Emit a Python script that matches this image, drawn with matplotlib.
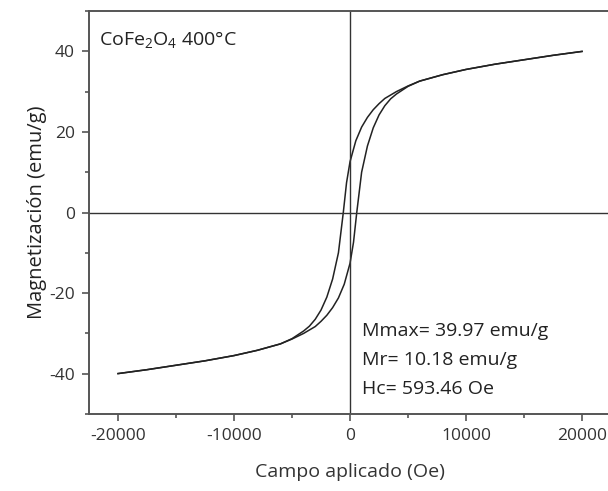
import matplotlib
matplotlib.use("Agg")
import matplotlib.pyplot as plt
from matplotlib.ticker import MultipleLocator

plt.rcParams['font.family'] = ['Open Sans', 'DejaVu Sans']
plt.rcParams['mathtext.fontset'] = 'custom'
plt.rcParams['mathtext.rm'] = 'Open Sans'
plt.rcParams['mathtext.it'] = 'Open Sans:italic'
plt.rcParams['axes.unicode_minus'] = False

# Descending branch (field from +20000 to -20000 Oe)
h_down = [20000, 17500, 15000, 12500, 10000, 8000, 6000, 5000, 4000, 3000,
          2500, 2000, 1500, 1000, 500, 0, -300, -580, -1000, -1500, -2000,
          -2500, -3000, -3500, -4000, -5000, -6000, -8000, -10000, -12500,
          -15000, -17500, -20000]
m_down = [39.97, 39.0, 37.9, 36.8, 35.5, 34.2, 32.6, 31.4, 30.0, 28.3,
          27.0, 25.5, 23.6, 21.2, 17.8, 12.6, 7.4, 0.0, -10.0, -16.5, -21.0,
          -24.2, -26.5, -28.2, -29.4, -31.3, -32.6, -34.2, -35.5, -36.8,
          -37.9, -39.0, -39.97]

# Ascending branch (field from -20000 to +20000 Oe)
h_up = [-20000, -17500, -15000, -12500, -10000, -8000, -6000, -5000, -4000,
        -3000, -2500, -2000, -1500, -1000, -500, 0, 300, 580, 1000, 1500,
        2000, 2500, 3000, 3500, 4000, 5000, 6000, 8000, 10000, 12500, 15000,
        17500, 20000]
m_up = [-39.97, -39.0, -37.9, -36.8, -35.5, -34.2, -32.6, -31.4, -30.0,
        -28.3, -27.0, -25.5, -23.6, -21.2, -17.8, -12.6, -7.4, 0.0, 10.0, 16.5,
        21.0, 24.2, 26.5, 28.2, 29.4, 31.3, 32.6, 34.2, 35.5, 36.8, 37.9,
        39.0, 39.97]

x_ticks = [-20000, -10000, 0, 10000, 20000]
y_ticks = [-40, -20, 0, 20, 40]

fig = plt.figure(figsize=(6.08, 4.91), dpi=100)
ax = fig.add_axes([0.1464, 0.1568, 0.8586, 0.8208])

line_col = '#222222'
ax.plot(h_down, m_down, color=line_col, lw=1.1)
ax.plot(h_up, m_up, color=line_col, lw=1.1)

ax.axhline(0, color='#333333', lw=1.0)
ax.axvline(0, color='#333333', lw=1.0)

ax.set_xlim(-22500, 22500)
ax.set_ylim(-50, 50)
ax.set_xticks(x_ticks)
ax.set_yticks(y_ticks)
ax.xaxis.set_minor_locator(MultipleLocator(5000))
ax.yaxis.set_minor_locator(MultipleLocator(10))

for s in ax.spines.values():
    s.set_color('#555555')
    s.set_linewidth(1.4)

ax.tick_params(which='major', direction='out', length=5, width=1.2,
               color='#555555', labelsize=12.5, labelcolor='#333333', pad=5)
ax.tick_params(which='minor', direction='out', length=3, width=1.2,
               color='#555555')

ax.set_xlabel('Campo aplicado (Oe)', fontsize=14, color='#333333', labelpad=14)
ax.set_ylabel('Magnetización (emu/g)', fontsize=14.5, color='#222222', labelpad=2)

ax.text(0.02, 0.955, r'CoFe$_2$O$_4$ 400°C', transform=ax.transAxes,
        fontsize=14, color='#222222', va='top', ha='left')

ax.text(0.522, 0.205, 'Mmax= 39.97 emu/g', transform=ax.transAxes,
        fontsize=14, color='#222222', va='center', ha='left')
ax.text(0.522, 0.135, 'Mr= 10.18 emu/g', transform=ax.transAxes,
        fontsize=14, color='#222222', va='center', ha='left')
ax.text(0.522, 0.063, 'Hc= 593.46 Oe', transform=ax.transAxes,
        fontsize=14, color='#222222', va='center', ha='left')

fig.savefig('out.png', dpi=100)
